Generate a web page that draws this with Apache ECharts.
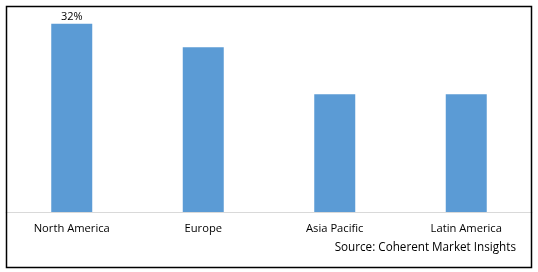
<!DOCTYPE html>
<html>
<head>
<meta charset="utf-8">
<script src="https://cdn.jsdelivr.net/npm/echarts@6/dist/echarts.min.js"></script>
<style>
html,body{margin:0;padding:0;background:#fff;}
#c{width:538px;height:272px;}
</style>
</head>
<body>
<div id="c"></div>
<script>
var categories = ['North America', 'Europe', 'Asia Pacific', 'Latin America'];
var values = [32, 28, 20, 20];
var labelText = ['32%', '', '', ''];
var sourceText = 'Source: Coherent Market Insights';

var chart = echarts.init(document.getElementById('c'), null, {renderer: 'canvas'});
var font = '"Open Sans", "Liberation Sans", Arial, sans-serif';
chart.setOption({
  animation: false,
  backgroundColor: '#ffffff',
  grid: {left: 6, right: 6, top: 6, bottom: 60, containLabel: false},
  xAxis: {
    type: 'category',
    data: categories,
    axisLine: {show: true, lineStyle: {color: '#d9d9d9', width: 1}},
    axisTick: {show: false},
    axisLabel: {color: '#000', fontFamily: font, fontSize: 11.2, margin: 11}
  },
  yAxis: {
    type: 'value', min: 0, max: 35,
    show: false,
    splitLine: {show: false}
  },
  series: [{
    type: 'bar',
    data: values.map(function (v, i) {
      return {value: v, label: {show: labelText[i] !== '', formatter: labelText[i]}};
    }),
    barWidth: 41,
    itemStyle: {color: '#5b9bd5'},
    label: {position: 'top', color: '#000', fontFamily: font, fontSize: 11, distance: 1}
  }],
  graphic: [
    {type: 'rect', shape: {x: 6.5, y: 6.5, width: 525, height: 261}, style: {fill: 'none', stroke: '#000', lineWidth: 1.5}, z: 100},
    {type: 'text', right: 22, top: 242, style: {text: sourceText, fill: '#000', font: '11.7px ' + font}}
  ]
});
</script>
</body>
</html>
